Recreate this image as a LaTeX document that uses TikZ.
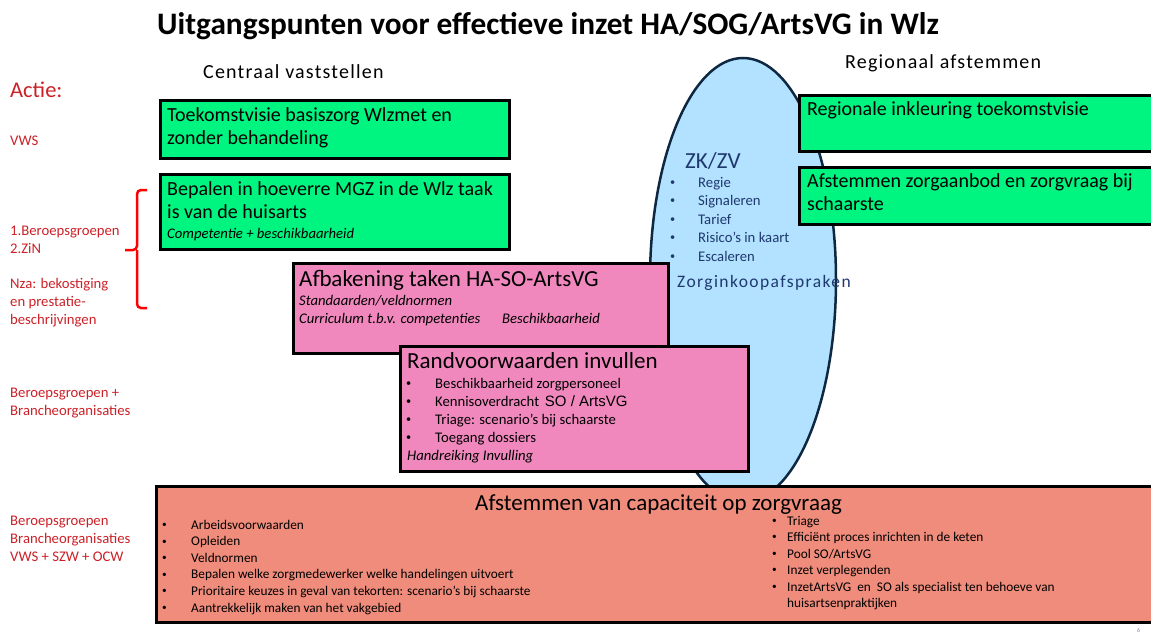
\documentclass[tikz,border=0pt]{standalone}
\usepackage{fontspec}
\setmainfont{Carlito}
\newfontfamily\arialfont{Liberation Sans}
\usetikzlibrary{shapes.geometric}
\definecolor{ZorgGroen}{RGB}{0,245,128}
\definecolor{ZorgRoze}{RGB}{240,136,190}
\definecolor{ZorgZalm}{RGB}{240,140,124}
\definecolor{ZorgBlauw}{RGB}{178,226,255}
\definecolor{EllipsRand}{RGB}{14,40,65}
\definecolor{EllipsTekst}{RGB}{31,56,110}
\definecolor{ActieRood}{RGB}{204,32,39}
\newcommand{\grootfont}{\fontsize{20}{23}\selectfont}
\newcommand{\kopfont}{\fontsize{23}{26}\selectfont}
\newcommand{\kleinfont}{\fontsize{14.7}{18}\selectfont}
\newcommand{\lijstfont}{\fontsize{13.3}{16.5}\selectfont}
\newcommand{\stip}{\raisebox{0.12em}{\scalebox{0.7}{\textbullet}}}
\tikzset{
  vak/.style={draw=black, line width=3pt, inner sep=0pt, anchor=north west},
  groen/.style={vak, fill=ZorgGroen},
  roze/.style={vak, fill=ZorgRoze},
  zalm/.style={vak, fill=ZorgZalm},
  tekst/.style={anchor=base west, inner sep=0pt, align=left},
  kop/.style={tekst, font=\grootfont},
  schuin/.style={tekst, font=\kleinfont\itshape},
  punt/.style={tekst, font=\kleinfont},
  lijst/.style={tekst, font=\lijstfont},
  actie/.style={tekst, text=ActieRood, font=\fontsize{14.7}{18}\selectfont},
  zk/.style={tekst, text=EllipsTekst, font=\kleinfont},
  haak/.style={red, line width=2.5pt, rounded corners=4pt}
}

\begin{document}
\begin{tikzpicture}[x=1pt,y=-1pt]
\useasboundingbox (0,0) rectangle (1151,634);
\clip (0,0) rectangle (1151,634);

\node[tekst, font=\fontsize{31.3}{36}\selectfont\bfseries] (titel) at (157,35) {Uitgangspunten voor effectieve inzet HA/SOG/ArtsVG in Wlz};
\node[tekst, font=\fontsize{20}{24}\selectfont\addfontfeatures{LetterSpace=6}] (centraal) at (203,78) {Centraal vaststellen};
\node[tekst, font=\fontsize{20}{24}\selectfont\addfontfeatures{LetterSpace=6}] (regionaal) at (845,68) {Regionaal afstemmen};

% multi-line labels are placed at the baseline of their last line
\node[actie, font=\fontsize{22.5}{26}\selectfont] (actie) at (10,97) {Actie:};
\node[actie] (vws) at (10,145) {VWS};
\node[actie] (groepen) at (10,253) {1.Beroepsgroepen\\2.ZiN};
\node[actie] (nza) at (10,324) {Nza: bekostiging\\en prestatie-\\beschrijvingen};
\node[actie] (branche) at (10,415) {Beroepsgroepen +\\Brancheorganisaties};
\node[actie] (ministeries) at (10,561) {Beroepsgroepen\\Brancheorganisaties\\VWS + SZW + OCW};
\draw[haak] (147,190) -- (137,190) -- (137,250) -- (125,250);
\draw[haak] (137,250) -- (137,308) -- (147,308);

\node[ellipse, draw=EllipsRand, fill=ZorgBlauw, line width=2.5pt, inner sep=0pt,
      minimum width=186, minimum height=444] (zkzv) at (743,280) {};

\node[groen, minimum width=349, minimum height=58] (visie) at (158.5,98.5) {};
\node[kop] (visietekst) at (167,144) {Toekomstvisie basiszorg Wlzmet en\\zonder behandeling};
\node[groen, minimum width=349, minimum height=75] (mgz) at (158.5,172.5) {};
\node[kop] (mgztekst) at (167,218) {Bepalen in hoeverre MGZ in de Wlz taak\\is van de huisarts};
\node[schuin] (competentie) at (167,238) {Competentie + beschikbaarheid};

\node[groen, minimum width=370, minimum height=56] (inkleuring) at (797.5,93.5) {};
\node[kop] (inkleuringtekst) at (807,115) {Regionale inkleuring toekomstvisie};
\node[groen, minimum width=370, minimum height=57] (schaarste) at (797.5,165.5) {};
\node[kop] (schaarstetekst) at (807,210) {Afstemmen zorgaanbod en zorgvraag bij\\schaarste};

\node[roze, minimum width=375, minimum height=90] (afbakening) at (291.5,261.5) {};
\node[kop, font=\kopfont] (afbakeningtekst) at (299,286) {Afbakening taken HA-SO-ArtsVG};
\node[schuin] (normen) at (299,323) {Standaarden/veldnormen\\Curriculum t.b.v. competenties};
\node[schuin] (beschikbaar) at (502,323) {Beschikbaarheid};

\node[roze, minimum width=348, minimum height=125] (rand) at (398.5,344.5) {};
\node[kop, font=\kopfont] (randtekst) at (407,368) {Randvoorwaarden invullen};
\foreach \regel [count=\i] in {Beschikbaarheid zorgpersoneel,
    {Kennisoverdracht \,{\arialfont\fontsize{15}{18}\selectfont SO / ArtsVG}},
    Triage: scenario’s bij schaarste, Toegang dossiers}
{
  \node[punt] (randpunt\i) at (406,{388+18*(\i-1)}) {\stip};
  \node[punt] (randregel\i) at (435,{388+18*(\i-1)}) {\regel};
}
\node[schuin] (handreiking) at (407,460) {Handreiking Invulling};

\node[zk, font=\kopfont] (zkzvtekst) at (685,168) {ZK/ZV};
\foreach \regel [count=\i] in {Regie, Signaleren, Tarief, Risico’s in kaart, Escaleren}
{
  \node[zk] (zkpunt\i) at (670,{187+18.5*(\i-1)}) {\stip};
  \node[zk] (zkregel\i) at (698,{187+18.5*(\i-1)}) {\regel};
}
\node[zk, font=\fontsize{17.5}{20}\selectfont\addfontfeatures{LetterSpace=8}] (zorginkoop) at (677,287) {Zorginkoopafspraken};

\node[zalm, minimum width=1010, minimum height=136] (capaciteit) at (154.5,484.5) {};
\node[kop, font=\kopfont] (capaciteittekst) at (475,510) {Afstemmen van capaciteit op zorgvraag};
\foreach \regel [count=\i] in {Arbeidsvoorwaarden, Opleiden, Veldnormen,
    Bepalen welke zorgmedewerker welke handelingen uitvoert,
    Prioritaire keuzes in geval van tekorten: scenario’s bij schaarste,
    Aantrekkelijk maken van het vakgebied}
{
  \node[lijst] (linkspunt\i) at (162,{529+16.6*(\i-1)}) {\stip};
  \node[lijst] (linksregel\i) at (191,{529+16.6*(\i-1)}) {\regel};
}
\foreach \regel [count=\i] in {Triage, Efficiënt proces inrichten in de keten, Pool SO/ArtsVG,
    Inzet verplegenden}
{
  \node[lijst] (rechtspunt\i) at (772,{525+16.5*(\i-1)}) {\stip};
  \node[lijst] (rechtsregel\i) at (787,{525+16.5*(\i-1)}) {\regel};
}
\node[lijst] (rechtspunt5) at (772,591) {\stip};
\node[lijst] (rechtsregel5) at (787,607.5) {InzetArtsVG \ en \ SO als specialist ten behoeve van\\huisartsenpraktijken};

\node[tekst, text=EllipsTekst!60, font=\fontsize{6}{7}\selectfont] (pagina) at (1137,632) {6};
\end{tikzpicture}
\end{document}
